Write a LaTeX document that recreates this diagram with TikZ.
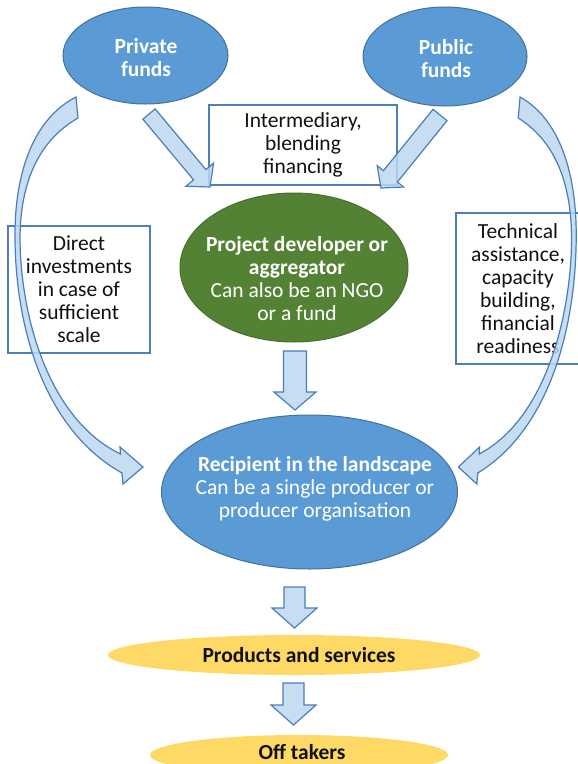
\documentclass[tikz,border=0pt]{standalone}
\usepackage{fontspec}
\setmainfont{Carlito}
\usetikzlibrary{shapes.geometric,calc}

\definecolor{fundblue}{HTML}{5B9BD5}
\definecolor{fundedge}{HTML}{41719C}
\definecolor{devgreen}{HTML}{548235}
\definecolor{devedge}{HTML}{466F2C}
\definecolor{arrowfill}{HTML}{BDD7EE}
\definecolor{arrowedge}{HTML}{4A7EBB}
\definecolor{boxedge}{HTML}{4F7FB8}
\definecolor{outyellow}{HTML}{FFD966}
\definecolor{ink}{HTML}{111111}

\tikzset{
  every node/.style={inner sep=0pt, outer sep=0pt},
  txt/.style={align=center, font=\fontsize{21.5}{23}\selectfont, text=ink},
  wtxt/.style={align=center, font=\fontsize{21.5}{23}\selectfont, text=white},
  infobox/.style={draw=boxedge, line width=1.3pt, rectangle, txt},
  fundsellipse/.style={ellipse, draw=fundedge, line width=1pt, fill=fundblue},
  devellipse/.style={ellipse, draw=devedge, line width=1pt, fill=devgreen},
  outellipse/.style={ellipse, fill=outyellow},
  blockarrow/.style={draw=arrowedge, line width=1.2pt, fill=arrowfill,
    fill opacity=0.85, line join=miter},
  curved funds arrow/.pic={
    \path[blockarrow]
      (76,97) .. controls (35,118) and (14,170) .. (15,240)
      .. controls (16,330) and (45,430) .. (122,473)
      -- (123,484) -- (143,467) -- (120,447) -- (120.5,454)
      .. controls (50,420) and (21,320) .. (20,240)
      .. controls (20,180) and (40,140) .. (78,118) -- cycle;
  }
}

% straight block arrow: tail, tip, half shaft width, half head width, head length
\newcommand\blockarrow[5]{%
  \coordinate (#1-base) at ($(#2)!#5!(#1)$);
  \path[blockarrow]
    ($(#1)!#3!90:(#2)$) -- ($(#1-base)!#3!90:(#2)$) -- ($(#1-base)!#4!90:(#2)$)
    -- (#2) -- ($(#1-base)!#4!-90:(#2)$) -- ($(#1-base)!#3!-90:(#2)$)
    -- ($(#1)!#3!-90:(#2)$) -- cycle;
}

\begin{document}
\begin{tikzpicture}[x=1pt,y=-1pt]
\useasboundingbox (0,0) rectangle (578,764);
\clip (0,0) rectangle (578,764);

% text boxes
\node[infobox, minimum width=188pt, minimum height=80pt] (inter) at (303,145)
  {Intermediary,\\blending\\financing};
\node[infobox, minimum width=142pt, minimum height=127pt] (direct) at (79,289.5)
  {Direct\\investments\\in case of\\sufficient\\scale};
\node[infobox, minimum width=124pt, minimum height=151pt] (technical) at (518,288.5)
  {Technical\\assistance,\\capacity\\building,\\financial\\readiness};

% curved arrows from the funds to the recipient
\pic (leftcurve) at (0,0) {curved funds arrow};
\pic[xscale=-0.92] (rightcurve) at (590,0) {curved funds arrow};

% straight arrows
\coordinate (privtail) at (149,114);
\coordinate (privtip) at (210,187);
\blockarrow{privtail}{privtip}{8pt}{18pt}{16pt}
\coordinate (pubtail) at (440,115);
\coordinate (pubtip) at (381,188);
\blockarrow{pubtail}{pubtip}{9pt}{17pt}{15pt}
\coordinate (devtail) at (295,351);
\coordinate (devtip) at (295,410);
\blockarrow{devtail}{devtip}{11.5pt}{21pt}{18pt}
\coordinate (rectail) at (294.5,587);
\coordinate (rectip) at (294.5,628);
\blockarrow{rectail}{rectip}{10.5pt}{22.5pt}{20pt}
\coordinate (prodtail) at (293.5,683);
\coordinate (prodtip) at (293.5,725);
\blockarrow{prodtail}{prodtip}{10.5pt}{22.5pt}{20pt}

% ellipses
\node[fundsellipse, minimum width=165pt, minimum height=97pt] (private) at (145.5,55.5) {};
\node[fundsellipse, minimum width=164pt, minimum height=99pt] (public) at (445,56.5) {};
\node[devellipse, minimum width=228pt, minimum height=149pt] (developer) at (294,267.5) {};
\node[fundsellipse, minimum width=296pt, minimum height=154pt] (recipient) at (309.5,492) {};
\node[outellipse, minimum width=372pt, minimum height=40pt] (products) at (294,655) {};
\node[outellipse, minimum width=298pt, minimum height=40pt] (offtakers) at (299,755) {};

% ellipse labels
\node[wtxt, font=\fontsize{21.5}{23}\selectfont\bfseries] (privatetext) at (146,58) {Private\\funds};
\node[wtxt, font=\fontsize{21.5}{23}\selectfont\bfseries] (publictext) at (446,59) {Public\\funds};
\node[wtxt] (developertext) at (297,279)
  {\textbf{Project developer or}\\\textbf{aggregator}\\Can also be an NGO\\or a fund};
\node[wtxt] (recipienttext) at (315,489)
  {\textbf{Recipient in the landscape}\\Can be a single producer or\\producer organisation};
\node[txt, font=\fontsize{21.5}{23}\selectfont\bfseries] (productstext) at (299,655) {Products and services};
\node[txt, font=\fontsize{21.5}{23}\selectfont\bfseries] (offtakerstext) at (302,752) {Off takers};
\end{tikzpicture}
\end{document}
